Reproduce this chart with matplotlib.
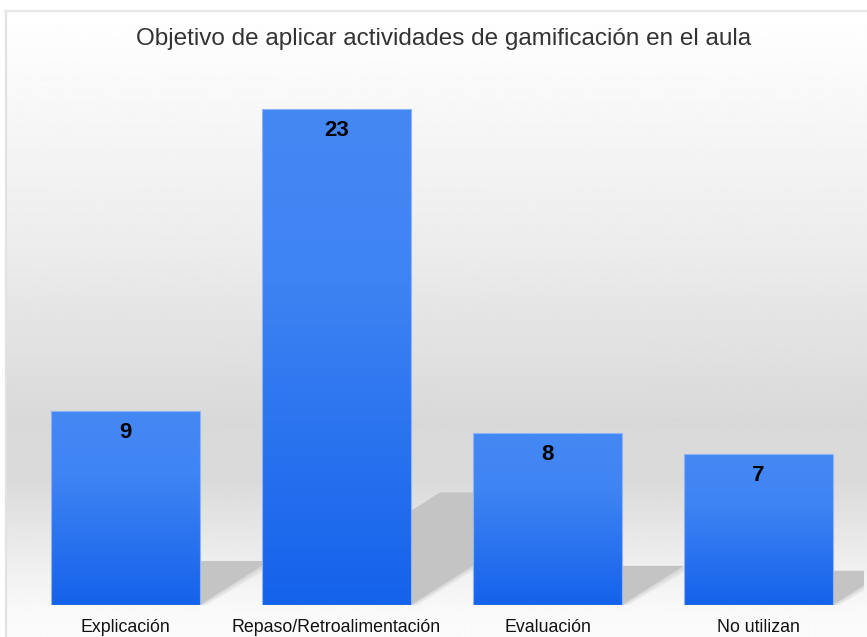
import matplotlib
matplotlib.use("Agg")
import matplotlib.pyplot as plt
import numpy as np
from matplotlib.colors import LinearSegmentedColormap
from matplotlib.patches import Polygon
from matplotlib.lines import Line2D

plt.rcParams['font.family'] = ['Liberation Sans', 'DejaVu Sans']

title = "Objetivo de aplicar actividades de gamificación en el aula"
categories = ["Explicación", "Repaso/Retroalimentación", "Evaluación", "No utilizan"]
values = [9, 23, 8, 7]

W, H = 867, 637
fig = plt.figure(figsize=(W / 100, H / 100), dpi=100)

# background gradient (white at top, grey in the middle, light at the floor)
bg = fig.add_axes([5 / W, 0, 1 - 5 / W, 1 - 11 / H], zorder=-10)
stops_px = [11, 100, 250, 420, 480, 560, 610, 637]
stops_lv = [255, 248, 236, 217, 218, 238, 249, 251]
ys = np.arange(11, 638)
lv = np.interp(ys, stops_px, stops_lv) / 255.0
bg.imshow(np.repeat(lv.reshape(-1, 1), 2, axis=1), cmap='gray', vmin=0, vmax=1,
          aspect='auto', extent=[0, 1, 0, 1])
bg.axis('off')

# frame lines left and top
fig.add_artist(Line2D([6 / W, 6 / W], [0, 1 - 10.5 / H], color='#e2e2e2', lw=1.6))
fig.add_artist(Line2D([5 / W, 1], [1 - 10.5 / H, 1 - 10.5 / H], color='#e8e8e8', lw=1.6))

fig.text(444 / W, 1 - 39 / H, title, ha='center', va='center', fontsize=17.5, color='#333333')

ax = fig.add_axes([20 / W, 32 / H, 844 / W, 539 / H])
ax.patch.set_alpha(0)
x = np.arange(len(values))
width = 149 / 211
bar_cmap = LinearSegmentedColormap.from_list("barblue", ["#1562eb", "#2a73ef", "#3f84f3", "#4488f4"])

# floor shadows
for xi, v in zip(x, values):
    x0, x1 = xi - width / 2, xi + width / 2
    h = 0.227 * v
    dx = 0.0367 * v
    for k, a in [(0.03, 0.25), (0.015, 0.35), (0.0, 1.0)]:
        poly = Polygon([(x0 + k, 0), (x1 + k, 0), (x1 + dx + k, h - k * 4), (x0 + dx, h - k * 4)],
                       closed=True, facecolor='#c4c4c4', edgecolor='none', alpha=a, zorder=1)
        ax.add_patch(poly)

bars = ax.bar(x, values, width=width, color='none', edgecolor='#8fb4f5', linewidth=0.8, zorder=3)
for b, v in zip(bars, values):
    grad = np.linspace(0, 1, 200).reshape(-1, 1)
    im = ax.imshow(grad, extent=[b.get_x(), b.get_x() + b.get_width(), 0, v], origin='lower',
                   cmap=bar_cmap, aspect='auto', zorder=2)
    im.set_clip_path(b)
    ax.annotate(str(v), (b.get_x() + b.get_width() / 2, v), xytext=(0, -15.5),
                textcoords='offset points', ha='center', va='center',
                fontsize=16, fontweight='bold', color='black', zorder=4)

ax.set_xlim(-0.5, len(values) - 0.5)
ax.set_ylim(0, 25)
ax.set_xticks(x, categories)
ax.tick_params(axis='x', length=0, pad=10, labelsize=12.8, labelcolor='#111111')
ax.set_yticks([])
for s in ax.spines.values():
    s.set_visible(False)

fig.savefig("out.png", dpi=100)
